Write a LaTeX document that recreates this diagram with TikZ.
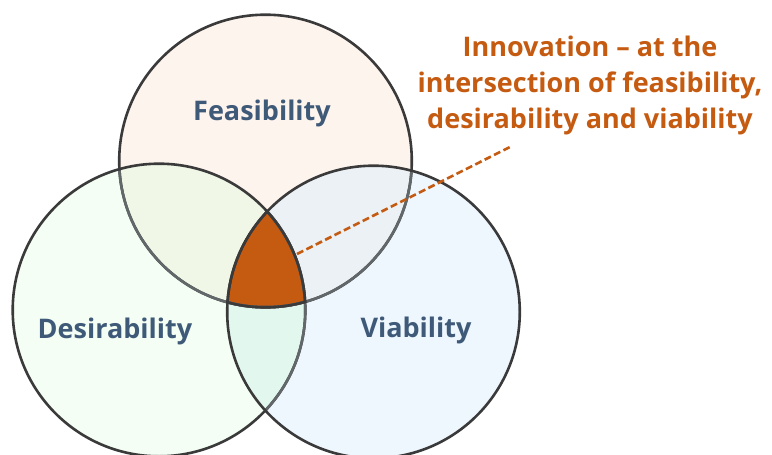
\documentclass[tikz,border=0pt]{standalone}
\usepackage{fontspec}
\setmainfont{Open Sans}[BoldFont={Open Sans Bold}]
\begin{document}
\definecolor{ringline}{HTML}{3A3A3A}
\definecolor{ringsoft}{HTML}{626769}
\definecolor{feasfill}{HTML}{FEF4EE}
\definecolor{desfill}{HTML}{F4FEF4}
\definecolor{viafill}{HTML}{EEF6FE}
\definecolor{fdfill}{HTML}{F0F7E6}
\definecolor{fvfill}{HTML}{EBF1F4}
\definecolor{dvfill}{HTML}{E2F8EE}
\definecolor{innov}{HTML}{C55A11}
\definecolor{labelblue}{HTML}{3F5A78}
\begin{tikzpicture}[x=1pt,y=-1pt,
  ring/.style={circle, minimum size=293pt, inner sep=0pt},
  edge/.style={line width=2.6pt, draw=#1},
  setlabel/.style={font=\bfseries\fontsize{27}{30}\selectfont, text=labelblue},
  callout/.style={font=\bfseries\fontsize{27}{36}\selectfont, text=innov, align=center},
  leader/.style={draw=innov, line width=2.6pt, dashed, dash pattern=on 7pt off 3.5pt}]
\useasboundingbox (0,0) rectangle (772,455);
\def\rr{146.3pt}
% the three sets
\node[ring, fill=feasfill] (feas) at (265.5,161) {};
\node[ring, fill=desfill]  (des)  at (159,310) {};
\node[ring, fill=viafill]  (via)  at (373.5,312) {};
% pairwise overlaps
\begin{scope}
  \clip (feas.center) circle (\rr);
  \fill[fdfill] (des.center) circle (\rr);
\end{scope}
\begin{scope}
  \clip (feas.center) circle (\rr);
  \fill[fvfill] (via.center) circle (\rr);
\end{scope}
\begin{scope}
  \clip (des.center) circle (\rr);
  \fill[dvfill] (via.center) circle (\rr);
\end{scope}
% common part of all three sets
\begin{scope}
  \clip (feas.center) circle (\rr);
  \clip (des.center) circle (\rr);
  \fill[innov] (via.center) circle (\rr);
\end{scope}
% outlines
\foreach \c in {feas,des,via}
  \draw[edge=ringline] (\c.center) circle (\rr);
% arcs lying under a later set are lighter
\begin{scope}
  \clip (des.center) circle (144.8pt);
  \draw[edge=ringsoft] (feas.center) circle (\rr);
\end{scope}
\begin{scope}
  \clip (via.center) circle (144.8pt);
  \draw[edge=ringsoft] (feas.center) circle (\rr);
  \draw[edge=ringsoft] (des.center) circle (\rr);
\end{scope}
% border of the common part
\begin{scope}
  \clip (des.center) circle (147.7pt);
  \clip (via.center) circle (147.7pt);
  \draw[edge=ringline] (feas.center) circle (\rr);
\end{scope}
\begin{scope}
  \clip (feas.center) circle (147.7pt);
  \clip (via.center) circle (147.7pt);
  \draw[edge=ringline] (des.center) circle (\rr);
\end{scope}
\begin{scope}
  \clip (feas.center) circle (147.7pt);
  \clip (des.center) circle (147.7pt);
  \draw[edge=ringline] (via.center) circle (\rr);
\end{scope}
% set names
\node[setlabel] (feaslabel) at (262,113) {Feasibility};
\node[setlabel] (deslabel) at (115,331) {Desirability};
\node[setlabel] (vialabel) at (416,330) {Viability};
% callout
\node[callout] (note) at (590,85) {Innovation – at the\\intersection of feasibility,\\desirability and viability};
\coordinate (tip) at (297,254);
\coordinate (leadend) at (512,146);
\draw[leader] (tip) -- (leadend);
\end{tikzpicture}
\end{document}
